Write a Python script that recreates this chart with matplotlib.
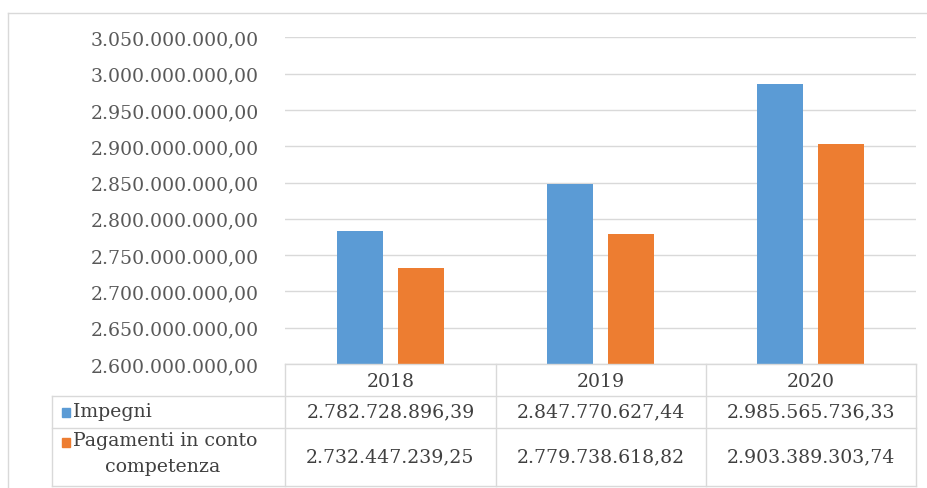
import matplotlib
matplotlib.use("Agg")
import matplotlib.pyplot as plt
from matplotlib.lines import Line2D
from matplotlib.patches import Rectangle

years = ["2018", "2019", "2020"]
impegni = [2782728896.39, 2847770627.44, 2985565736.33]
pagamenti = [2732447239.25, 2779738618.82, 2903389303.74]
series_names = ["Impegni", "Pagamenti in conto\ncompetenza"]
y_ticks = [2600000000 + 50000000 * i for i in range(10)]

BLUE = "#5B9BD5"
ORANGE = "#ED7D31"
GRID = "#D9D9D9"
TXT = "#404040"
FONT = "DejaVu Serif"
FS = 13.6


def it_fmt(v):
    s = f"{v:,.2f}"
    return s.replace(",", "X").replace(".", ",").replace("X", ".")


W, H = 928, 489
fig = plt.figure(figsize=(W / 100, H / 100), dpi=100)


def fx(px):
    return px / W


def fy(py):
    return 1 - py / H


ax_l, ax_r, ax_t, ax_b = 285, 916, 38.3, 365
ax = fig.add_axes([fx(ax_l), fy(ax_b), fx(ax_r - ax_l), (ax_b - ax_t) / H])

xs = list(range(len(years)))
bw = 0.22
off = 0.145
ax.bar([x - off for x in xs], impegni, width=bw, color=BLUE, zorder=3)
ax.bar([x + off for x in xs], pagamenti, width=bw, color=ORANGE, zorder=3)

ax.set_xlim(-0.5, len(years) - 0.5)
ax.set_ylim(y_ticks[0], y_ticks[-1])
ax.set_yticks(y_ticks)
ax.set_yticklabels([it_fmt(t) for t in y_ticks], fontfamily=FONT, fontsize=FS, color="#595959")
ax.tick_params(axis="y", length=0, pad=19)
ax.set_xticks([])
ax.grid(axis="y", color=GRID, linewidth=1, zorder=0)
for s in ax.spines.values():
    s.set_visible(False)

# data table beneath the bars
col_edges = [285, 496, 706, 916]
row_edges = [365, 397, 429, 487]
left_edge = 52
lc = dict(color=GRID, linewidth=1, transform=fig.transFigure)
fig.add_artist(Line2D([fx(ax_l), fx(ax_r)], [fy(365), fy(365)], **lc))
for ry in row_edges[1:]:
    fig.add_artist(Line2D([fx(left_edge), fx(col_edges[-1])], [fy(ry), fy(ry)], **lc))
for cx in col_edges:
    fig.add_artist(Line2D([fx(cx), fx(cx)], [fy(row_edges[0]), fy(row_edges[-1])], **lc))
fig.add_artist(Line2D([fx(left_edge), fx(left_edge)], [fy(row_edges[1]), fy(row_edges[-1])], **lc))

for i, yr in enumerate(years):
    cx = (col_edges[i] + col_edges[i + 1]) / 2
    fig.text(fx(cx), fy(382), yr, ha="center", va="center", fontfamily=FONT, fontsize=FS, color=TXT)
    fig.text(fx(cx), fy(412), it_fmt(impegni[i]), ha="center", va="center",
             fontfamily=FONT, fontsize=FS, color=TXT)
    fig.text(fx(cx), fy(457), it_fmt(pagamenti[i]), ha="center", va="center",
             fontfamily=FONT, fontsize=FS, color=TXT)

# series keys in the first column
for color, yk in [(BLUE, 413), (ORANGE, 443)]:
    fig.add_artist(Rectangle((fx(62), fy(yk + 4.5)), fx(8), 9 / H, color=color,
                             transform=fig.transFigure))
fig.text(fx(73), fy(412), series_names[0], ha="left", va="center", fontfamily=FONT, fontsize=FS, color=TXT)
first, second = series_names[1].split("\n")
fig.text(fx(73), fy(441), first, ha="left", va="center", fontfamily=FONT, fontsize=FS, color=TXT)
fig.text(fx(163), fy(467), second, ha="center", va="center", fontfamily=FONT, fontsize=FS, color=TXT)

# chart frame
fig.add_artist(Line2D([fx(8), fx(8)], [fy(14), 0], **lc))
fig.add_artist(Line2D([fx(8), 1], [fy(14), fy(14)], **lc))

fig.savefig("out.png", dpi=100)
